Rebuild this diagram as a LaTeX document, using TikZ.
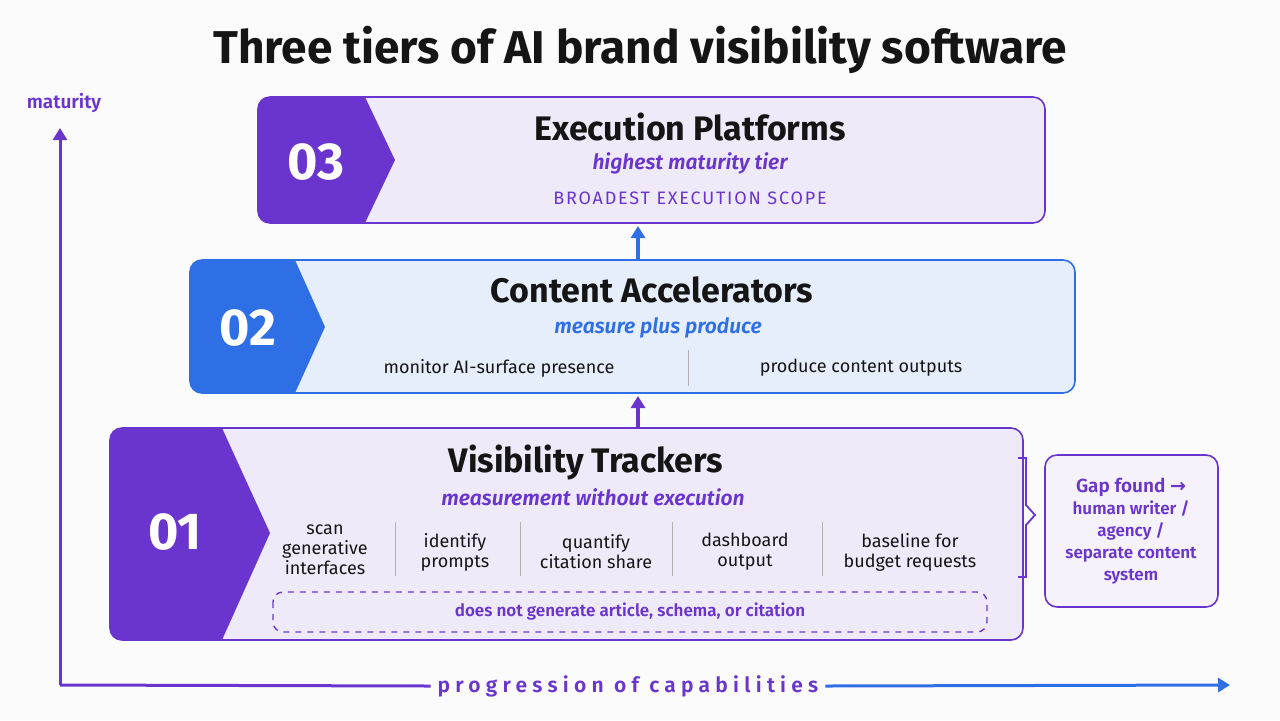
\documentclass[tikz,border=0pt]{standalone}
\usepackage{fontspec}
\setmainfont{Fira Sans}[BoldFont={Fira Sans SemiBold},BoldItalicFont={Fira Sans SemiBold Italic}]
\newfontfamily\heavyfont{Fira Sans}[UprightFont={* Bold},BoldFont={* Bold}]
\newfontfamily\symfont{DejaVu Sans}
\usetikzlibrary{arrows.meta}
\definecolor{violet}{HTML}{6A35CF}
\definecolor{azure}{HTML}{2F6FE6}
\definecolor{lilac}{HTML}{EFEAF9}
\definecolor{ice}{HTML}{E7EEFB}
\definecolor{ink}{HTML}{151515}
\tikzset{
  tierbox/.style={rounded corners=6pt,line width=0.8pt},
  badge/.style={font=\heavyfont\fontsize{26}{26}\selectfont,text=white},
  tiername/.style={font=\heavyfont\fontsize{17}{17}\selectfont,text=ink},
  tagline/.style={font=\bfseries\itshape\fontsize{10.5}{11}\selectfont},
  item/.style={font=\fontsize{9}{10}\selectfont,text=ink,align=center},
  sep/.style={draw=gray!60,line width=0.5pt},
  up/.style={-{Triangle[length=6pt,width=7pt]},line width=1.6pt}
}
\begin{document}
\begin{tikzpicture}[x=0.5pt,y=-0.5pt]
\useasboundingbox[fill=white!97!gray] (0,0) rectangle (1280,720);
\node (title) at (640,50) {\heavyfont\fontsize{23}{23}\selectfont\color{ink}Three tiers of AI brand visibility software};
% axes
\coordinate (origin) at (60,685);
\coordinate (top) at (60,128);
\draw[violet,line width=1.5pt,-{Triangle[length=6pt,width=7pt]}] (origin) -- (top);
\node[text=violet,font=\bfseries\fontsize{9.5}{10}\selectfont] (maturity) at (64,103) {maturity};
\node[text=violet,font=\bfseries\fontsize{10.5}{11}\selectfont] (prog) at (628,686) {\addfontfeature{LetterSpace=25}progression of capabilities};
\coordinate (right) at (1230,685);
\draw[violet,line width=1.5pt] (origin) -- (prog.west);
\draw[azure,line width=1.5pt,-{Triangle[length=6pt,width=7pt]}] (prog.east) -- (right);
% tier 3
\draw[tierbox,draw=violet,fill=lilac] (258,97) rectangle (1045,223);
\begin{scope}
\clip[rounded corners=6pt] (258,97) rectangle (1045,223);
\fill[violet] (258,97) -- (365,97) -- (395,160) -- (365,223) -- (258,223) -- cycle;
\end{scope}
\node[badge] (n3) at (316,162) {03};
\node[tiername] (t3) at (690,127) {Execution Platforms};
\node[tagline,text=violet] (s3) at (690,163) {highest maturity tier};
\node[text=violet,font=\fontsize{9}{9}\selectfont] (c3) at (690,198) {\addfontfeature{LetterSpace=10}BROADEST EXECUTION SCOPE};
% tier 2
\draw[tierbox,draw=azure,fill=ice] (190,260) rectangle (1075,393);
\begin{scope}
\clip[rounded corners=6pt] (190,260) rectangle (1075,393);
\fill[azure] (190,260) -- (295,260) -- (325,327) -- (295,393) -- (190,393) -- cycle;
\end{scope}
\node[badge] (n2) at (248,328) {02};
\node[tiername] (t2) at (652,290) {Content Accelerators};
\node[tagline,text=azure] (s2) at (658,328) {measure plus produce};
\node[item] (m2) at (499,368) {monitor AI-surface presence};
\node[item] (p2) at (861,368) {produce content outputs};
\draw[sep] (688,350) -- (688,386);
% tier 1
\draw[tierbox,draw=violet,fill=lilac] (110,428) rectangle (1023,640);
\begin{scope}
\clip[rounded corners=6pt] (110,428) rectangle (1023,640);
\fill[violet] (110,428) -- (222,428) -- (270,533) -- (222,640) -- (110,640) -- cycle;
\end{scope}
\node[badge] (n1) at (175,532) {01};
\node[tiername] (t1) at (586,462) {Visibility Trackers};
\node[tagline,text=violet] (s1) at (593,497) {measurement without execution};
\node[item] (i1) at (325,550) {scan\\generative\\interfaces};
\node[item] (i2) at (455,552) {identify\\prompts};
\node[item] (i3) at (596,552) {quantify\\citation share};
\node[item] (i4) at (745,552) {dashboard\\output};
\node[item] (i5) at (910,552) {baseline for\\budget requests};
\foreach \x in {395,520,672,822}
  \draw[sep] (\x,522) -- (\x,576);
\draw[violet,dashed,rounded corners=5pt,line width=0.7pt] (273,592) rectangle (987,632);
\node[text=violet,font=\bfseries\fontsize{8.5}{9}\selectfont] (nogen) at (630,612) {does not generate article, schema, or citation};
% connectors
\draw[up,azure] (638,259) -- (638,226);
\draw[up,violet] (638,428) -- (638,396);
% gap
\draw[violet,line width=0.9pt] (1018,458) -- (1026,458) -- (1026,505) -- (1035,515) -- (1026,525) -- (1026,577) -- (1018,577);
\draw[tierbox,draw=violet,fill=lilac!60!white] (1045,455) rectangle (1218,607);
\node[text=violet,align=center,font=\bfseries\fontsize{8.5}{11}\selectfont] (gap) at (1131,531) {{\fontsize{9.5}{11}\selectfont Gap found {\symfont →}}\\human writer /\\agency /\\separate content\\system};
\end{tikzpicture}
\end{document}
